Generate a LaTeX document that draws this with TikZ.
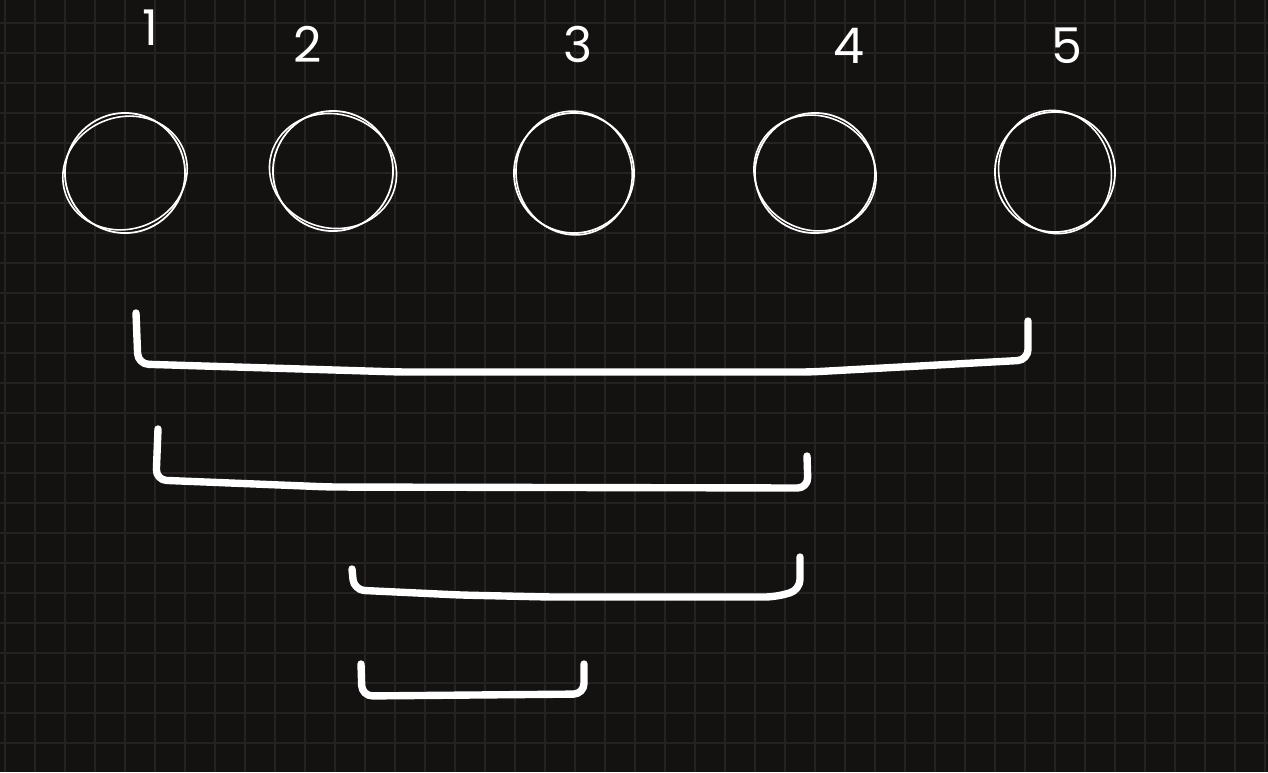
\documentclass[tikz,border=0pt]{standalone}
\usepackage{fontspec}
\setmainfont{Poppins}
\usepackage{xcolor}
\definecolor{board}{HTML}{141111}
\definecolor{gridcol}{HTML}{262222}
\tikzset{
  gridline/.style={gridcol, line width=0.55pt},
  ball/.style={circle, draw=white, line width=0.5pt, minimum size=1.2cm, inner sep=0pt},
  sketch/.style={white, line width=0.45pt},
  num/.style={text=white, font=\fontsize{14}{14}\selectfont},
  brace/.style={white, line width=2.1pt, line cap=round, line join=round, rounded corners=3pt}
}
\begin{document}
\begin{tikzpicture}[x=0.01cm, y=-0.01cm]
\fill[board] (0,0) rectangle (1268,772);
\useasboundingbox (0,0) rectangle (1268,772);
% grid
\foreach \gx in {5,35,...,1265} \draw[gridline] (\gx,0) -- (\gx,772);
\foreach \gy in {23,53,...,772} \draw[gridline] (0,\gy) -- (1268,\gy);

% balls
\node[ball] (b1) at (125,173) {};
\node[ball] (b2) at (333,171) {};
\node[ball] (b3) at (574,173) {};
\node[ball] (b4) at (815,173) {};
\node[ball] (b5) at (1055,172) {};
\draw[sketch, rotate around={20:(b1)}] (b1) ellipse (63 and 56);
\draw[sketch, rotate around={-15:(b2)}] (b2) ellipse (64 and 57);
\draw[sketch, rotate around={10:(b3)}] (b3) ellipse (58 and 62);
\draw[sketch, rotate around={-25:(b4)}] (b4) ellipse (62 and 57);
\draw[sketch, rotate around={15:(b5)}] (b5) ellipse (56 and 62);

% numbers
\node[num] (n1) at (150,28) {1};
\node[num] (n2) at (308,44) {2};
\node[num] (n3) at (578,44) {3};
\node[num] (n4) at (849,46) {4};
\node[num] (n5) at (1067,46) {5};

% brackets
\draw[brace] (136,313) -- (138,364) -- (400,372) -- (810,372) -- (1028,360) -- (1028,321);
\draw[brace] (158,429) -- (156,480) -- (330,487) -- (808,488) -- (807,456);
\draw[brace] (352,569) -- (354,590) -- (460,595) -- (550,597) -- (775,597) -- (800,590) -- (800,557);
\draw[brace] (361,664) -- (362,696) -- (584,694) -- (584,664);

\end{tikzpicture}
\end{document}
